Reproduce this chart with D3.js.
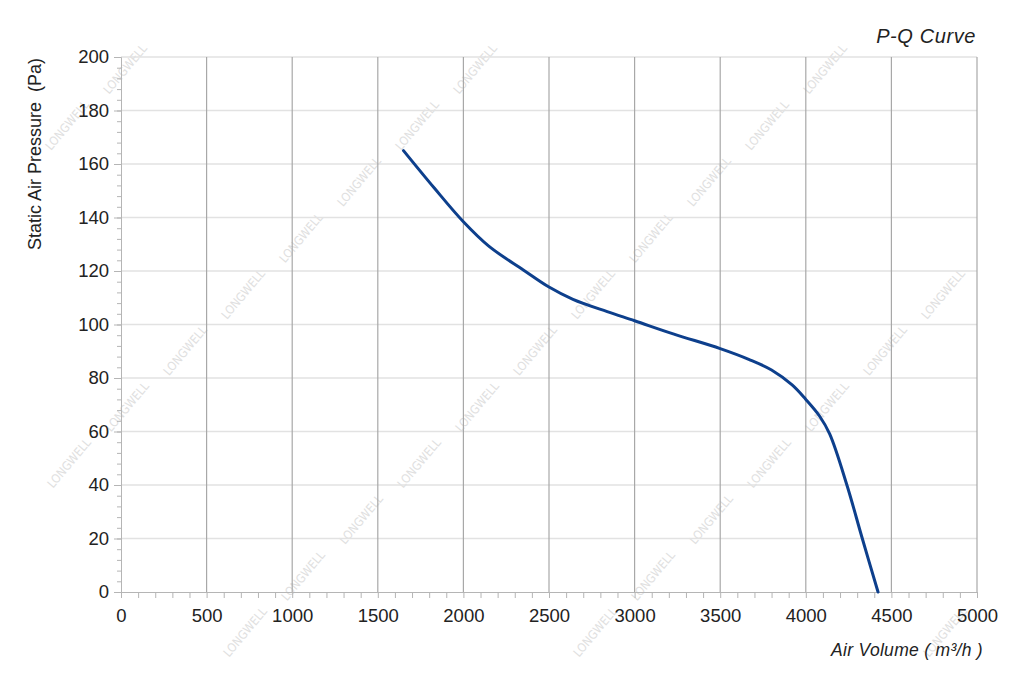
<!DOCTYPE html>
<html><head><meta charset="utf-8">
<script src="https://cdn.jsdelivr.net/npm/d3@7"></script>
<style>body{margin:0;background:#fff;} svg{display:block;font-family:"Liberation Sans",Arial,sans-serif;} .pre{white-space:pre;}</style>
</head><body>
<svg id="c" width="1024" height="688"></svg>
<script>
const airVolume = [1650,1830,2000,2150,2350,2500,2640,2840,3000,3230,3500,3670,3800,3920,4000,4080,4140,4240,4330,4422];
const pressure  = [165,151,138.4,129.2,120.4,114,109.4,104.8,101.4,96.4,91,86.9,83,77.4,72,65.8,59,40,20,0];
const xTicks = [0,500,1000,1500,2000,2500,3000,3500,4000,4500,5000];
const yTicks = [0,20,40,60,80,100,120,140,160,180,200];

const svg = d3.select("#c");
const x = d3.scaleLinear().domain([0,5000]).range([121,977]);
const y = d3.scaleLinear().domain([0,200]).range([592,57]);
const FONT = "Liberation Sans, Arial, sans-serif";

// watermark
const wm = svg.append("g");
for (let j=-1;j<=11;j++){
  for (let i=-1;i<=4;i++){
    const cx = 119 + 350*i - 58*j + 6, cy = 69 + 56.3*j;
    if (cx<28||cx>996||cy<30||cy>658) continue;
    wm.append("text").attr("transform",`translate(${cx},${cy}) rotate(-50)`)
      .attr("text-anchor","middle").attr("dy","0.35em")
      .attr("font-size",12).attr("font-family","DejaVu Sans Condensed, Liberation Sans Narrow, sans-serif")
      .attr("fill","#e0e0e0").text("LONGWELL");
  }
}

// horizontal grid
svg.append("g").selectAll("line").data(yTicks.filter(d=>d>0)).join("line")
  .attr("x1",x(0)).attr("x2",x(5000)).attr("y1",d=>y(d)).attr("y2",d=>y(d))
  .attr("stroke","#e2e2e2").attr("stroke-width",1.3);
// vertical grid
svg.append("g").selectAll("line").data(xTicks.filter(d=>d>0)).join("line")
  .attr("x1",d=>x(d)).attr("x2",d=>x(d)).attr("y1",y(0)).attr("y2",y(200))
  .attr("stroke","#a8a8a8").attr("stroke-width",1.2);

// x axis
const xMinor = d3.range(0,5001,100);
const xa = svg.append("g").attr("transform",`translate(0,${y(0)})`);
xa.call(d3.axisBottom(x).tickValues(xMinor).tickSize(6).tickFormat(""));
xa.select(".domain").attr("stroke","#b5b5b5");
xa.selectAll(".tick line").attr("stroke","#b5b5b5");
const xl = svg.append("g").attr("transform",`translate(0,${y(0)})`)
  .call(d3.axisBottom(x).tickValues(xTicks).tickSize(0).tickPadding(17).tickFormat(d3.format("d")));
xl.attr("font-size",null).attr("font-family",null);
xl.select(".domain").remove();
xl.selectAll("text").style("font-size","18.5px").attr("fill","#222").style("font-family",FONT);

// y axis
const yMinor = d3.range(0,201,4);
const ya = svg.append("g").attr("transform",`translate(${x(0)},0)`);
ya.call(d3.axisLeft(y).tickValues(yMinor).tickSize(4).tickFormat(""));
ya.select(".domain").attr("stroke","#b5b5b5");
ya.selectAll(".tick line").attr("stroke","#b5b5b5");
const yMaj = svg.append("g").attr("transform",`translate(${x(0)},0)`)
  .call(d3.axisLeft(y).tickValues(yTicks).tickSize(7).tickPadding(5).tickFormat(d3.format("d")));
yMaj.attr("font-size",null).attr("font-family",null);
yMaj.select(".domain").remove();
yMaj.selectAll(".tick line").attr("stroke","#b5b5b5");
yMaj.selectAll("text").style("font-size","18.5px").attr("fill","#222").style("font-family",FONT);

// curve
const line = d3.line().x(d=>x(d[0])).y(d=>y(d[1])).curve(d3.curveCatmullRom.alpha(0.5));
svg.append("path").datum(airVolume.map((q,i)=>[q,pressure[i]]))
  .attr("d",line).attr("fill","none").attr("stroke","#0d3f8c").attr("stroke-width",3)
  .attr("stroke-linecap","round").attr("stroke-linejoin","round");

// titles
svg.append("text").attr("x",976).attr("y",43).attr("text-anchor","end")
  .style("font-size","20px").style("letter-spacing","0.6px").attr("font-style","italic").attr("fill","#222").text("P-Q Curve");
svg.append("text").attr("x",983).attr("y",656).attr("text-anchor","end").attr("class","pre")
  .style("font-size","17.5px").style("letter-spacing","0.3px").attr("font-style","italic").attr("fill","#222").text("Air Volume ( m³/h )");
svg.append("text").attr("transform","translate(41,154) rotate(-90)").attr("text-anchor","middle").attr("class","pre")
  .style("font-size","18px").attr("fill","#222").text("Static Air Pressure  (Pa)");
</script>
</body></html>
